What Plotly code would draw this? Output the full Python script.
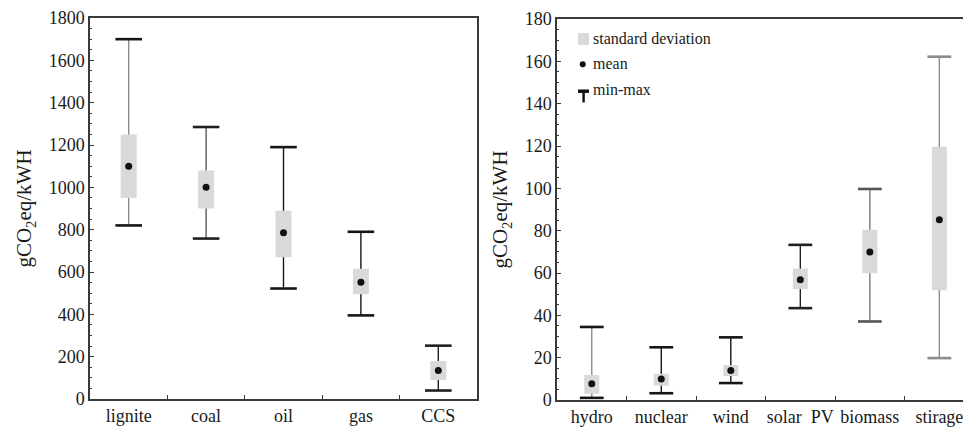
import plotly.graph_objects as go

# ---------------- data ----------------
left_cats = ["lignite", "coal", "oil", "gas", "CCS"]
left_mean = [1100, 1000, 785, 552, 135]
left_sd_low = [950, 900, 670, 495, 90]
left_sd_high = [1250, 1080, 890, 615, 180]
left_min = [820, 758, 522, 395, 40]
left_max = [1700, 1285, 1190, 790, 252]
left_whisker_color = ["#8c8c8c", "#5a5a5a", "#151515", "#151515", "#202020"]
left_cap_color = ["#151515", "#202020", "#151515", "#151515", "#202020"]

right_cats = ["hydro", "nuclear", "wind", "solar\u00a0\u00a0PV", "biomass", "stirage"]
right_mean = [7.7, 9.9, 13.9, 56.8, 69.9, 85.1]
right_sd_low = [3.0, 6.8, 11.3, 52.4, 59.9, 51.8]
right_sd_high = [11.8, 12.4, 16.5, 62.1, 80.4, 119.7]
right_min = [1.0, 3.2, 8.0, 43.4, 37.1, 19.8]
right_max = [34.5, 24.9, 29.6, 73.3, 99.7, 162.2]
right_whisker_color = ["#8c8c8c", "#151515", "#151515", "#202020", "#7a7a7a", "#8c8c8c"]
right_cap_color = ["#151515", "#151515", "#151515", "#202020", "#555555", "#8c8c8c"]

legend_labels = ["standard deviation", "mean", "min-max"]

BOX_COLOR = "#d9d9d9"
FONT = "Liberation Serif"

fig = go.Figure()


def add_panel(cats, mean, lo, hi, mn, mx, wcol, ccol, xa, ya, boxw, capw):
    # whiskers
    for c, a, b, col in zip(cats, mn, mx, wcol):
        fig.add_trace(go.Scatter(x=[c, c], y=[a, b], mode="lines",
                                 line=dict(color=col, width=1.4),
                                 xaxis=xa, yaxis=ya, showlegend=False, hoverinfo="skip"))
    # standard deviation boxes
    for c, a, b in zip(cats, lo, hi):
        fig.add_trace(go.Scatter(x=[c, c], y=[a, b], mode="lines",
                                 line=dict(color=BOX_COLOR, width=boxw),
                                 xaxis=xa, yaxis=ya, showlegend=False, hoverinfo="skip"))
    # caps
    fig.add_trace(go.Scatter(x=cats + cats, y=mn + mx, mode="markers",
                             marker=dict(symbol="line-ew", size=capw,
                                         line=dict(color=ccol + ccol, width=2.6)),
                             xaxis=xa, yaxis=ya, showlegend=False, hoverinfo="skip"))
    # means
    fig.add_trace(go.Scatter(x=cats, y=mean, mode="markers",
                             marker=dict(symbol="circle", size=7, color="#111111"),
                             xaxis=xa, yaxis=ya, showlegend=False))


add_panel(left_cats, left_mean, left_sd_low, left_sd_high, left_min, left_max,
          left_whisker_color, left_cap_color, "x", "y", 16, 19)
add_panel(right_cats, right_mean, right_sd_low, right_sd_high, right_min, right_max,
          right_whisker_color, right_cap_color, "x2", "y2", 15, 17)

axis_common = dict(showline=True, linecolor="#3a3a3a", linewidth=1.5, automargin=False,
                   showgrid=False, zeroline=False, ticks="inside", tickcolor="#3a3a3a",
                   tickfont=dict(family=FONT, size=18, color="#1a1a1a"))
title_font = dict(family=FONT, size=21, color="#1a1a1a")

W, H = 963, 429
fig.update_layout(
    width=W, height=H,
    margin=dict(l=0, r=0, t=0, b=0, autoexpand=False),
    paper_bgcolor="white", plot_bgcolor="white",
    showlegend=False,
    xaxis=dict(domain=[90 / W, 477 / W], type="category", range=[-0.5, 4.5],
               tickson="boundaries", ticklen=4, tickwidth=1.2, tickangle=0,
               mirror=True, **axis_common),
    yaxis=dict(domain=[(H - 399) / H, (H - 18) / H], range=[0, 1800], dtick=200,
               ticklen=4, tickwidth=1.2, mirror=True,
               minor=dict(dtick=50, ticks="inside", ticklen=2, tickcolor="#3a3a3a"),
               title=dict(text="gCO<sub>2</sub>eq/kWH", font=title_font, standoff=11),
               **axis_common),
    xaxis2=dict(domain=[557 / W, 1.0], type="category", range=[-0.5, 5.34],
                tickson="boundaries", ticklen=4, tickwidth=1.2, tickangle=0,
                anchor="y2", mirror=True, **axis_common),
    yaxis2=dict(domain=[(H - 400) / H, (H - 19) / H], range=[0, 180], dtick=20,
                ticklen=4, tickwidth=1.2, anchor="x2", mirror=False,
                minor=dict(dtick=5, ticks="inside", ticklen=2, tickcolor="#3a3a3a"),
                title=dict(text="gCO<sub>2</sub>eq/kWH", font=title_font, standoff=11),
                **axis_common),
)

# ---------------- legend (drawn manually inside the right panel) ----------------
xr, yr = "x2 domain", "y2 domain"
fig.add_shape(type="rect", xref=xr, yref=yr, x0=0.0517, x1=0.0788, y0=0.932, y1=0.963,
              fillcolor=BOX_COLOR, line=dict(width=0))
fig.add_shape(type="circle", xref=xr, yref=yr, x0=0.0560, x1=0.0708, y0=0.873, y1=0.889,
              fillcolor="#111111", line=dict(width=0))
fig.add_shape(type="rect", xref=xr, yref=yr, x0=0.0517, x1=0.0788, y0=0.806, y1=0.815,
              fillcolor="#111111", line=dict(width=0))
fig.add_shape(type="rect", xref=xr, yref=yr, x0=0.0625, x1=0.0685, y0=0.781, y1=0.808,
              fillcolor="#111111", line=dict(width=0))
for lab, yy in zip(legend_labels, [0.950, 0.884, 0.815]):
    fig.add_annotation(xref=xr, yref=yr, x=0.084, y=yy, text=lab, showarrow=False,
                       xanchor="left", yanchor="middle",
                       font=dict(family=FONT, size=16, color="#1a1a1a"))

fig.write_html("out.html", config={"displayModeBar": False},
               post_script="document.body.style.margin='0px';"
                           "document.body.style.overflow='hidden';")
